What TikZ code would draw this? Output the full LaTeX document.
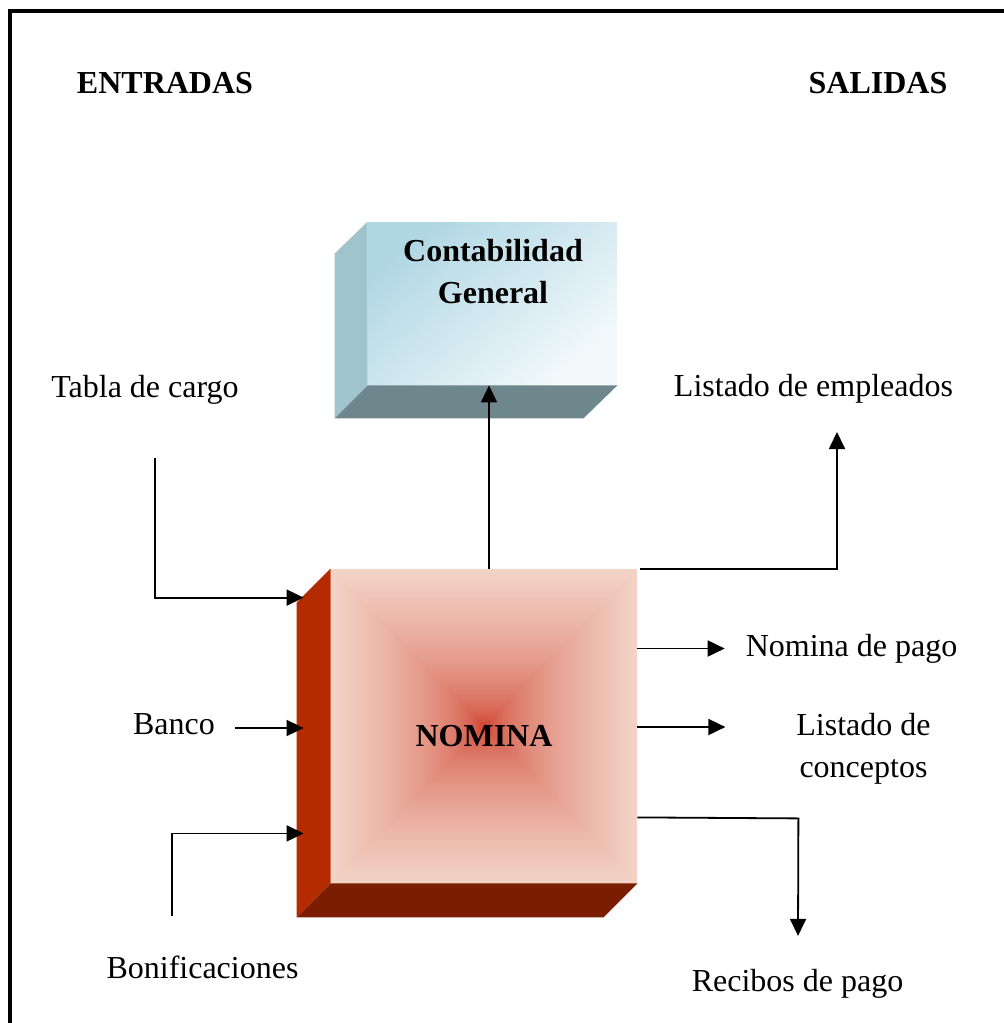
\documentclass[tikz,border=0pt]{standalone}
\usepackage{fontspec}
\setmainfont{Liberation Serif}
\usepackage{tikz}
\usetikzlibrary{arrows.meta,calc}

\definecolor{contaA}{RGB}{176,215,228}
\definecolor{contaB}{RGB}{242,249,251}
\definecolor{contaLado}{RGB}{160,196,204}
\definecolor{contaBase}{RGB}{110,135,140}
\definecolor{nomLado}{RGB}{181,43,0}
\definecolor{nomBase}{RGB}{122,29,0}

% degradado en piramide para la caja de nomina
\pgfdeclarefunctionalshading{piramide}{\pgfpoint{-50bp}{-50bp}}{\pgfpoint{50bp}{50bp}}{}{
  abs exch abs 2 copy lt {exch} if pop
  25 div dup 1 gt {pop 1} if sqrt
  dup 0.15 mul 0.80 add exch
  dup 0.63 mul 0.20 add exch
  0.66 mul 0.12 add
}

\tikzset{
  texto/.style={font=\fontsize{16}{21}\selectfont, align=center},
  titulo/.style={font=\fontsize{16}{21}\selectfont\bfseries, align=center},
  nomfrente/.style={titulo, shading=piramide, minimum width=153pt, minimum height=157pt,
    inner sep=0pt, text height=20pt, text depth=0pt},
  contafrente/.style={top color=contaA, bottom color=contaB, shading angle=40,
    minimum width=124.5pt, minimum height=81.5pt, inner sep=0pt},
  flecha/.style={line width=0.9pt, -{Triangle[length=8.5pt,width=8pt]}}
}

\begin{document}
\begin{tikzpicture}[x=50pt,y=-50pt]
\useasboundingbox (0,0) rectangle (10.04,10.23);
\clip (0,0) rectangle (10.04,10.23);
\fill[white] (0,0) rectangle (10.04,10.23);
\draw[line width=2pt] (0.105,0.11) rectangle (10.3,10.4);

\node[titulo] (entradas) at (1.65,0.832) {ENTRADAS};
\node[titulo] (salidas) at (8.78,0.83) {SALIDAS};

% caja contabilidad
\node[contafrente] (conta) at (4.925,3.035) {};
\fill[contaLado] (conta.north west) -- (conta.south west) -- ++(-0.33,0.33)
  -- ($(conta.north west)+(-0.33,0.32)$) -- cycle;
\fill[contaBase] (conta.south west) -- (conta.south east) -- ++(-0.34,0.33)
  -- ($(conta.south west)+(-0.33,0.33)$) -- cycle;
\node[titulo] (contatxt) at (4.93,2.72) {Contabilidad\\General};

% caja nomina
\node[nomfrente] (nomina) at (4.84,7.26) {NOMINA};
\fill[nomLado] (nomina.north west) -- (nomina.south west) -- ++(-0.34,0.34)
  -- ($(nomina.north west)+(-0.34,0.34)$) -- cycle;
\fill[nomBase] (nomina.south west) -- (nomina.south east) -- ++(-0.34,0.34)
  -- ($(nomina.south west)+(-0.34,0.34)$) -- cycle;

% entradas
\node[texto] (tabla) at (1.45,3.895) {Tabla de cargo};
\node[texto] (banco) at (1.74,7.245) {Banco};
\node[texto] (bonif) at (2.025,9.67) {Bonificaciones};

% salidas
\node[texto] (listemp) at (8.135,3.885) {Listado de empleados};
\node[texto] (nompago) at (8.515,6.485) {Nomina de pago};
\node[texto] (listcon) at (8.635,7.485) {Listado de\\conceptos};
\node[texto] (recibos) at (7.975,9.835) {Recibos de pago};

\coordinate (tablaIni) at (1.55,4.58);
\coordinate (bonifIni) at (1.72,9.16);
\coordinate (empFin) at (8.37,4.32);

\draw[flecha] (tablaIni) |- ($(nomina.north west)+(-0.27,0.29)$);
\draw[flecha] ($(banco.east)+(0.13,0.035)$) -- ($(banco.east -| nomina.west)+(-0.27,0.035)$);
\draw[flecha] (bonifIni) |- ($(nomina.south west)+(-0.27,-0.5)$);

\draw[flecha] ($(nomina.north)+(0.05,0)$) -- ($(nomina.north |- conta.south)+(0.05,0)$);
\draw[flecha] ($(nomina.north east)+(0.03,0)$) -| (empFin);
\draw[flecha] (nompago.west -| nomina.east) -- ($(nompago.west)+(-0.14,0)$);
\draw[flecha] ($(nomina.east)+(0,0.01)$) -- ($(nomina.east)+(0.88,0.01)$);
\draw[flecha] ($(nomina.south east)+(0,-0.66)$) -- ($(nomina.south east)+(1.61,-0.65)$)
  -- ($(recibos.north)+(0.005,-0.26)$);
\end{tikzpicture}
\end{document}
